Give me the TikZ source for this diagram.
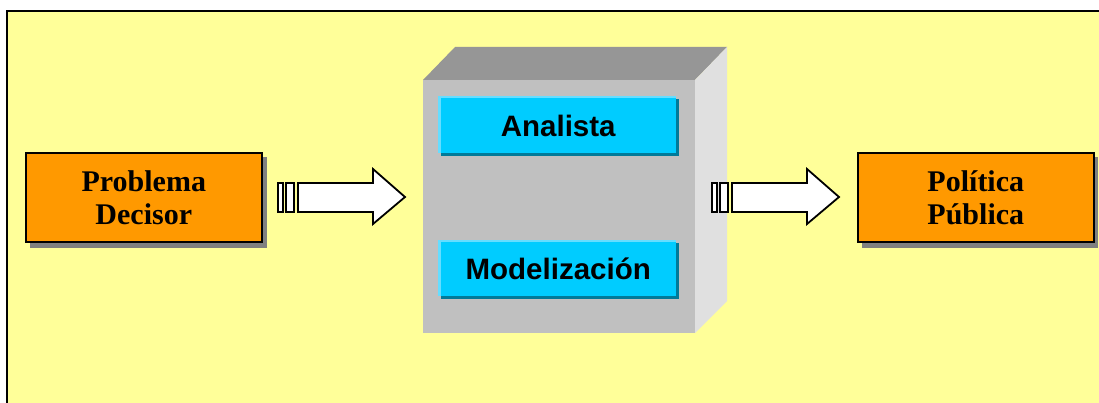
\documentclass[tikz,border=0pt]{standalone}
\usepackage{fontspec}
\newfontfamily\headsans{Liberation Sans}
\newfontfamily\headserif{Liberation Serif}
\usetikzlibrary{calc}
\definecolor{paneyellow}{HTML}{FFFF99}
\definecolor{boxorange}{HTML}{FF9900}
\definecolor{shadowgrey}{HTML}{808080}
\definecolor{cubefront}{HTML}{C0C0C0}
\definecolor{cubetop}{HTML}{969696}
\definecolor{cubeside}{HTML}{E0E0E0}
\definecolor{roleblue}{HTML}{00CCFF}
\definecolor{rolelight}{HTML}{66DDFF}
\definecolor{roledark}{HTML}{007A99}
\tikzset{
  x=1pt, y=-1pt,
  endbox/.style={draw=black, line width=1.6pt, fill=boxorange,
    minimum width=236pt, minimum height=89pt, align=center,
    font=\headserif\fontsize{30}{33}\selectfont\bfseries, inner sep=0pt},
  endshadow/.style={fill=shadowgrey, draw=none},
  rolebox/.style={fill=roleblue, draw=none, minimum width=237pt,
    minimum height=57pt, inner sep=0pt,
    font=\headsans\fontsize{29.5}{32}\selectfont\bfseries},
  blockarrow/.style={draw=black, line width=1.8pt, fill=white, line join=miter},
}
\begin{document}
\begin{tikzpicture}
\useasboundingbox (0,0) rectangle (1099,403);
% background pane
\fill[white] (0,0) rectangle (1099,403);
\fill[paneyellow] (7,11) rectangle (1110,420);
\draw[black, line width=2.8pt] (7,420) -- (7,11) -- (1110,11);

% end boxes with drop shadows
\fill[endshadow] (30,157) rectangle (267,248);
\node[endbox, anchor=north west] (prob) at (25,152) {Problema\\Decisor};
\fill[endshadow] (862,157) rectangle (1098,248);
\node[endbox, anchor=north west] (pol) at (857,152) {Política\\Pública};

% the central block
\fill[cubefront] (423,80) rectangle (695,333);
\fill[cubetop] (423,80) -- (455,47) -- (727,47) -- (695,80) -- cycle;
\fill[cubeside] (695,80) -- (727,47) -- (727,301) -- (695,333) -- cycle;

% role panels inside the block
\fill[roledark] (441,99) rectangle (679,156);
\fill[rolelight] (438,96) rectangle (676,153);
\node[rolebox, anchor=north west, minimum width=235pt, minimum height=55pt] (ana) at (440.5,98) {Analista};
\fill[roledark] (441,243) rectangle (679,299);
\fill[rolelight] (438,240) rectangle (676,296);
\node[rolebox, anchor=north west, minimum width=235pt, minimum height=54pt] (mod) at (440.5,242) {Modelización};

% block arrows
\draw[blockarrow] (278,183) rectangle (283,212);
\draw[blockarrow] (286,183) rectangle (294,212);
\draw[blockarrow] (298,183) -- (373,183) -- (373,169) -- (405,197) -- (373,224) -- (373,212) -- (298,212) -- cycle;

\draw[blockarrow] (712,183) rectangle (717,212);
\draw[blockarrow] (720,183) rectangle (728,212);
\draw[blockarrow] (732,183) -- (807,183) -- (807,169) -- (839,197) -- (807,224) -- (807,212) -- (732,212) -- cycle;
\end{tikzpicture}
\end{document}
